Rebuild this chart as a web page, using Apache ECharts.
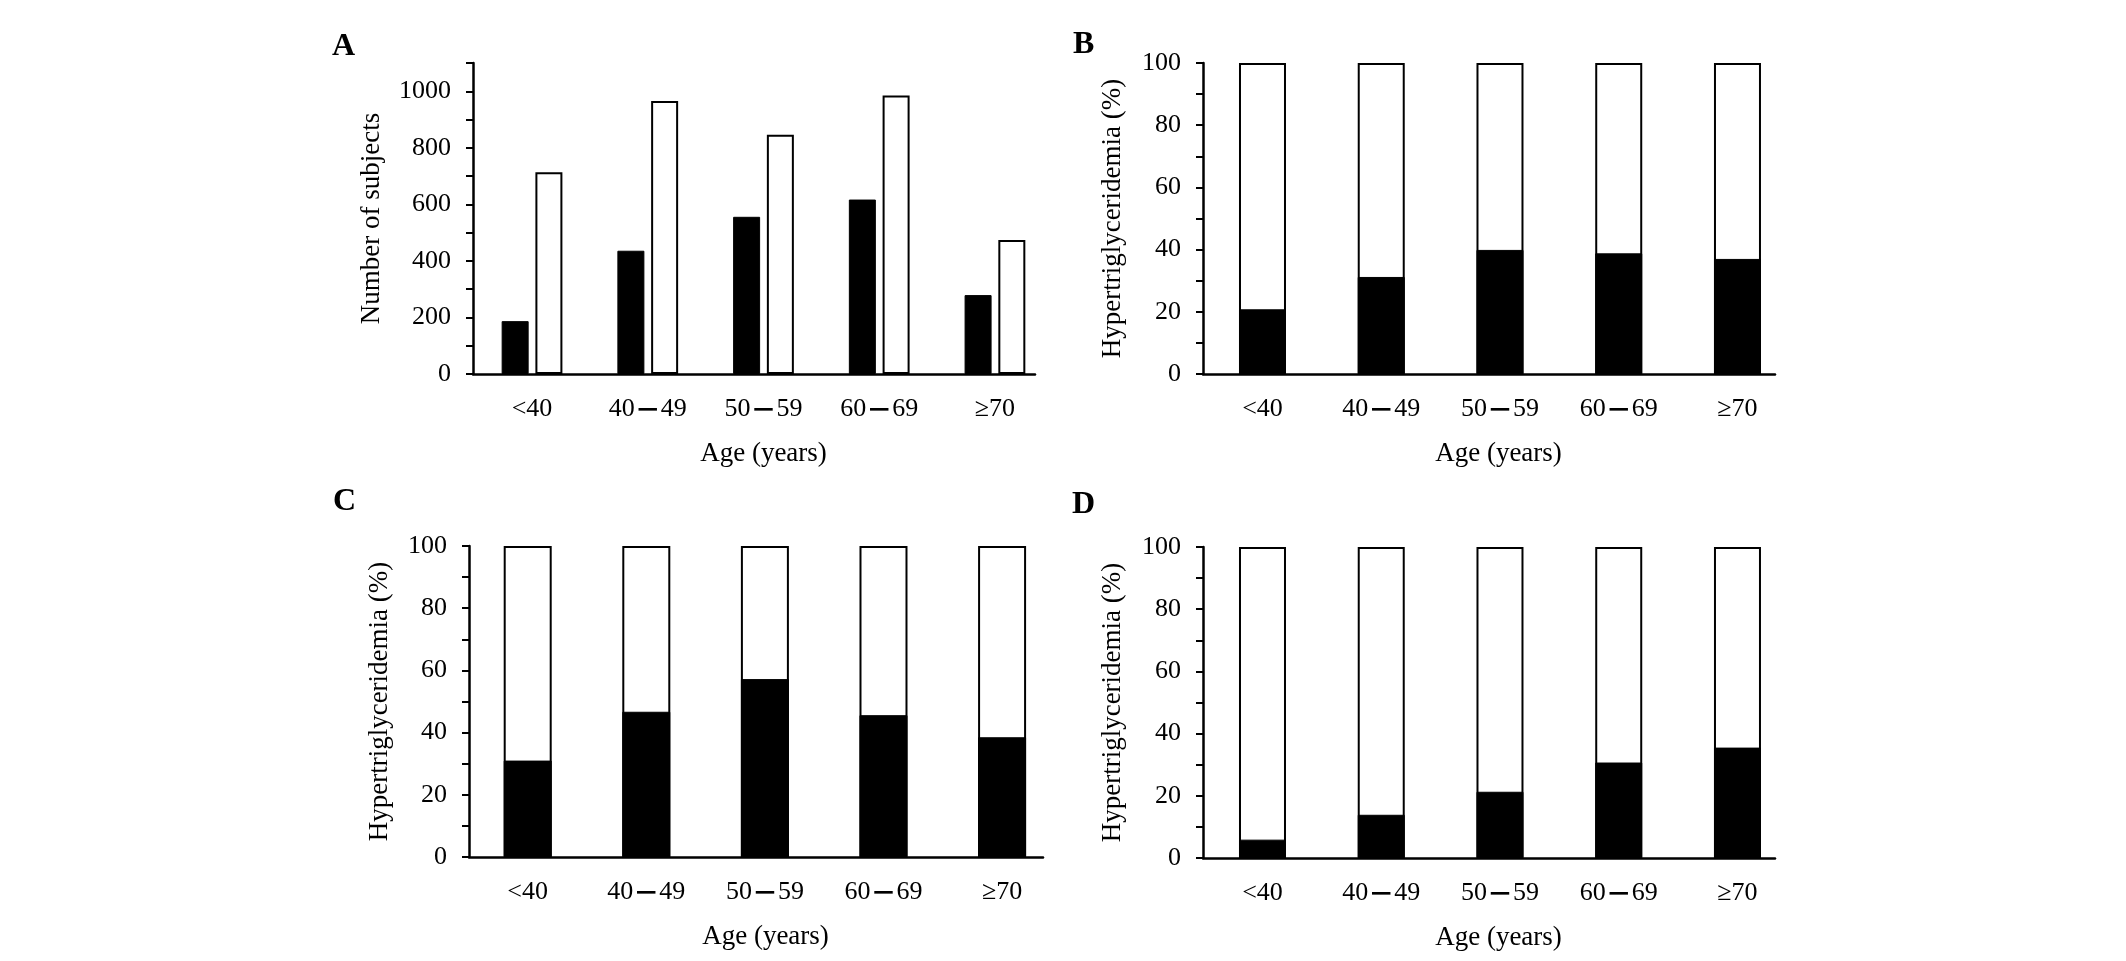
<!DOCTYPE html>
<html>
<head>
<meta charset="utf-8">
<script src="https://cdn.jsdelivr.net/npm/echarts@6/dist/echarts.min.js"></script>
<style>
html,body{margin:0;padding:0;background:#fff;}
#chart{width:2126px;height:961px;}
</style>
</head>
<body>
<div id="chart"></div>
<script>
// ---- data ----
const categories = ['<40', '40－49', '50－59', '60－69', '≥70'];
// Panel A: number of subjects
const countsWith = [187, 436, 556, 617, 279];      // black bars
const countsWithout = [714, 966, 846, 985, 474];   // white bars
// Panels B-D: hypertriglyceridemia (%) (black part); each column totals 100 %
const pctB = [20.8, 31.2, 39.9, 38.8, 37.0];
const pctC = [31.0, 46.7, 57.2, 45.6, 38.5];
const pctD = [5.9, 13.9, 21.3, 30.7, 35.5];
const pctTotal = [100, 100, 100, 100, 100];
const countTicks = { min: 0, max: 1100, interval: 100, labelStep: 200 };
const pctTicks = { min: 0, max: 100, interval: 10, labelStep: 20 };
const panelLetters = ['A', 'B', 'C', 'D'];

// ---- styling ----
const FONT = "'Liberation Serif', 'Times New Roman', serif";
const FS = 26;
const NFS = 27;

const grids = [
  { left: 473, top: 63, width: 562, height: 311 },
  { left: 1203, top: 63, width: 572, height: 311 },
  { left: 469, top: 546, width: 574, height: 311 },
  { left: 1203, top: 547, width: 572, height: 311 }
];
// category-position extent of each panel's x axis (category index units)
const xExtents = [[-0.51, 4.346], [-0.501, 4.316], [-0.495, 4.345], [-0.501, 4.316]];
const catIdx = categories.map((c, i) => i);

function xAxisFor(i) {
  return {
    type: 'value', gridIndex: i, min: xExtents[i][0], max: xExtents[i][1],
    axisLine: { show: true, onZero: false, lineStyle: { color: '#000', width: 2.5 } },
    axisTick: { show: false },
    splitLine: { show: false },
    axisLabel: {
      customValues: catIdx,
      showMinLabel: true, showMaxLabel: true, hideOverlap: false,
      color: '#000', fontFamily: FONT, fontSize: FS, margin: 22,
      formatter: function (v) {
        const c = categories[Math.round(v)];
        return c === undefined ? '' : c.replace('－', '{d|－}');
      },
      rich: { d: { fontFamily: "'Noto Sans CJK JP'", fontWeight: 'bold', fontSize: FS, color: '#000' } }
    },
    name: 'Age (years)', nameLocation: 'middle', nameGap: 66,
    nameTextStyle: { color: '#000', fontFamily: FONT, fontSize: NFS, padding: [0, 0, 0, 19] }
  };
}
function yAxisFor(i, ticks, name, gap) {
  return {
    type: 'value', gridIndex: i, min: ticks.min, max: ticks.max, interval: ticks.interval,
    axisLine: { show: true, onZero: false, lineStyle: { color: '#000', width: 2.5 } },
    axisTick: { show: true, length: 7, lineStyle: { color: '#000', width: 2 } },
    splitLine: { show: false },
    axisLabel: {
      color: '#000', fontFamily: FONT, fontSize: FS, margin: 22,
      formatter: function (v) { return v % ticks.labelStep === 0 ? String(v) : ''; }
    },
    name: name, nameLocation: 'middle', nameGap: gap,
    nameTextStyle: { color: '#000', fontFamily: FONT, fontSize: NFS }
  };
}

const blackStyle = { color: '#000', borderColor: '#000', borderWidth: 1 };
const whiteStyle = { color: '#fff', borderColor: '#000', borderWidth: 2 };

function pairs(vals) { return vals.map((v, i) => [catIdx[i], v]); }

function overlapPair(i, pct, bw) {
  return [
    { type: 'bar', xAxisIndex: i, yAxisIndex: i, barWidth: bw, barGap: '-100%',
      data: pairs(pctTotal), itemStyle: whiteStyle, silent: true },
    { type: 'bar', xAxisIndex: i, yAxisIndex: i, barWidth: bw, barGap: '-100%',
      data: pairs(pct), itemStyle: blackStyle, silent: true }
  ];
}

const letterPos = [[332, 31], [1073, 29], [333, 486], [1072, 489]];

const option = {
  animation: false,
  backgroundColor: '#fff',
  title: panelLetters.map((t, i) => ({
    text: t, left: letterPos[i][0], top: letterPos[i][1], padding: 0,
    textStyle: { fontFamily: FONT, fontWeight: 'bold', fontSize: 32, color: '#000' }
  })),
  grid: grids,
  xAxis: [xAxisFor(0), xAxisFor(1), xAxisFor(2), xAxisFor(3)],
  yAxis: [
    yAxisFor(0, countTicks, 'Number of subjects', 88),
    yAxisFor(1, pctTicks, 'Hypertriglyceridemia (%)', 77),
    yAxisFor(2, pctTicks, 'Hypertriglyceridemia (%)', 76),
    yAxisFor(3, pctTicks, 'Hypertriglyceridemia (%)', 77)
  ],
  series: [
    { type: 'bar', xAxisIndex: 0, yAxisIndex: 0, barWidth: 27, barGap: '25%',
      data: pairs(countsWith), itemStyle: blackStyle, silent: true },
    { type: 'bar', xAxisIndex: 0, yAxisIndex: 0, barWidth: 27, barGap: '25%',
      data: pairs(countsWithout), itemStyle: whiteStyle, silent: true }
  ].concat(overlapPair(1, pctB, 47), overlapPair(2, pctC, 48), overlapPair(3, pctD, 47))
};

const chart = echarts.init(document.getElementById('chart'), null, { renderer: 'canvas' });
chart.setOption(option);
</script>
</body>
</html>
